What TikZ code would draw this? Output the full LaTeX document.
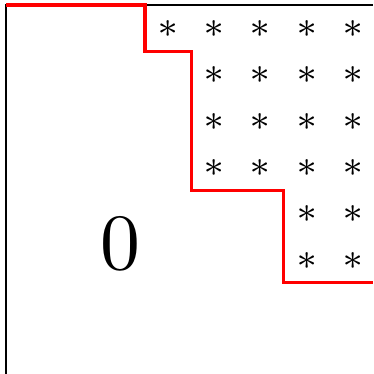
\documentclass[tikz,border=0pt]{standalone}
\begin{document}
\begin{tikzpicture}[scale=1,
		estrella/.style={inner sep=0pt, font=\scriptsize, scale=3.2},
		escalera/.style={red, line width=2pt}]
		
		\useasboundingbox (-0.13,0.11) rectangle (7.93,-7.97);
		
		% Bordes de la matriz
		\draw[line width=0.8pt] (0,-7.97) -- (0,0) -- (7.93,0);
		
		% Escalera
		\draw[escalera] (0,0) -- (3,0) -- (3,-1) -- (4,-1) -- (4,-4) -- (6,-4) -- (6,-6) -- (7.93,-6);
		
		% Bloque de ceros
		\node[inner sep=0pt, scale=4.9] (cero) at (2.47,-5.16) {\( 0 \)};
		
		% Entradas no nulas
		\foreach \c in {4,...,8}
		\node[estrella] (e-1-\c) at (\c-0.5,-0.52) {\( * \)};
		\foreach \f in {2,3,4}
		\foreach \c in {5,...,8}
		\node[estrella] (e-\f-\c) at (\c-0.5,-\f+0.48) {\( * \)};
		\foreach \f in {5,6}
		\foreach \c in {7,8}
		\node[estrella] (e-\f-\c) at (\c-0.5,-\f+0.48) {\( * \)};
		
	\end{tikzpicture}
\end{document}
